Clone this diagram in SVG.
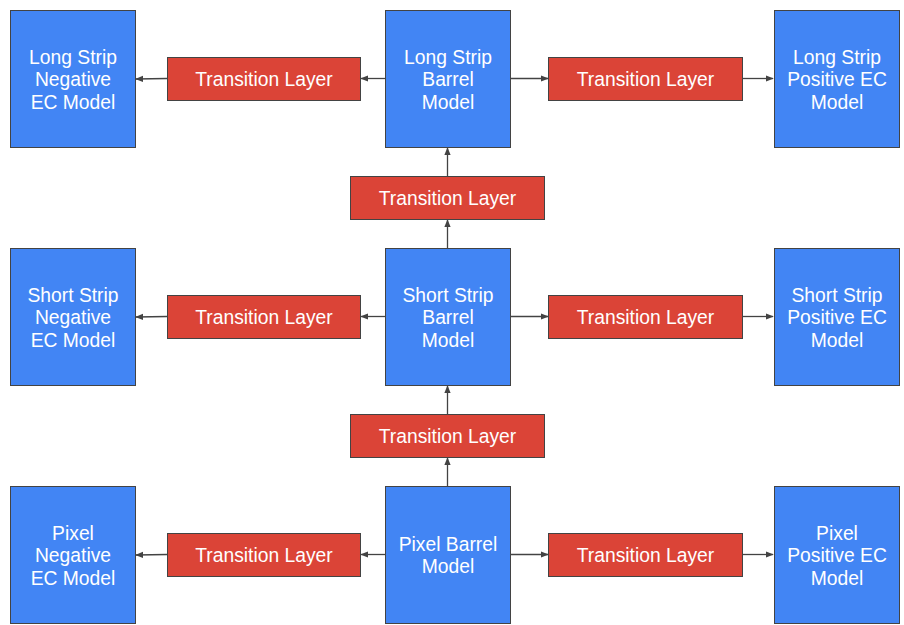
<svg xmlns="http://www.w3.org/2000/svg" width="904" height="625" viewBox="0 0 904 625">
  <style>
    .model { fill: #4285f4; stroke: #434343; stroke-width: 1; }
    .layer { fill: #db4437; stroke: #434343; stroke-width: 1; }
    text { font-family: "Liberation Sans", Arial, sans-serif; font-size: 19.3px; fill: #ffffff; text-anchor: middle; dominant-baseline: central; }
    .link { stroke: #434343; stroke-width: 1.3; fill: none; marker-end: url(#arrow); }
  </style>
  <defs>
    <marker id="arrow" viewBox="0 0 10 10" refX="9" refY="5" markerWidth="8" markerHeight="8" orient="auto" markerUnits="userSpaceOnUse">
      <path d="M0,1 L10,5 L0,9 z" fill="#434343"/>
    </marker>
  </defs>

  <rect width="904" height="625" fill="#ffffff"/>

  <!-- connectors -->
  <g id="connectors">
    <line class="link" x1="167" y1="78.5" x2="136" y2="79"/>
    <line class="link" x1="385" y1="78.5" x2="361" y2="78.5"/>
    <line class="link" x1="510" y1="78.5" x2="548" y2="78.5"/>
    <line class="link" x1="742" y1="78.5" x2="773" y2="78.5"/>
    <line class="link" x1="447.5" y1="176" x2="447.5" y2="148"/>
    <line class="link" x1="447.5" y1="248" x2="447.5" y2="220"/>

    <line class="link" x1="167" y1="316.5" x2="136" y2="317"/>
    <line class="link" x1="385" y1="316.5" x2="361" y2="316.5"/>
    <line class="link" x1="510" y1="316.5" x2="548" y2="316.5"/>
    <line class="link" x1="742" y1="316.5" x2="773" y2="316.5"/>
    <line class="link" x1="447.5" y1="414" x2="447.5" y2="386"/>
    <line class="link" x1="447.5" y1="486" x2="447.5" y2="458"/>

    <line class="link" x1="167" y1="554.5" x2="136" y2="555"/>
    <line class="link" x1="385" y1="554.5" x2="361" y2="554.5"/>
    <line class="link" x1="510" y1="554.5" x2="548" y2="554.5"/>
    <line class="link" x1="742" y1="554.5" x2="773" y2="554.5"/>
  </g>

  <!-- long strip row -->
  <g id="ls-neg">
    <rect class="model" x="10.5" y="10.5" width="125" height="137"/>
    <text x="73" y="57">Long Strip</text>
    <text x="73" y="79.5">Negative</text>
    <text x="73" y="102">EC Model</text>
  </g>
  <g id="ls-neg-tl">
    <rect class="layer" x="167.5" y="57.5" width="193" height="43"/>
    <text x="264" y="79">Transition Layer</text>
  </g>
  <g id="ls-barrel">
    <rect class="model" x="385.5" y="10.5" width="125" height="137"/>
    <text x="448" y="57">Long Strip</text>
    <text x="448" y="79.5">Barrel</text>
    <text x="448" y="102">Model</text>
  </g>
  <g id="ls-pos-tl">
    <rect class="layer" x="548.5" y="57.5" width="194" height="43"/>
    <text x="645.5" y="79">Transition Layer</text>
  </g>
  <g id="ls-pos">
    <rect class="model" x="774.5" y="10.5" width="125" height="137"/>
    <text x="837" y="57">Long Strip</text>
    <text x="837" y="79.5">Positive EC</text>
    <text x="837" y="102">Model</text>
  </g>

  <g id="ss-ls-tl">
    <rect class="layer" x="350.5" y="176.5" width="194" height="43"/>
    <text x="447.5" y="198">Transition Layer</text>
  </g>

  <!-- short strip row -->
  <g id="ss-neg">
    <rect class="model" x="10.5" y="248.5" width="125" height="137"/>
    <text x="73" y="295">Short Strip</text>
    <text x="73" y="317.5">Negative</text>
    <text x="73" y="340">EC Model</text>
  </g>
  <g id="ss-neg-tl">
    <rect class="layer" x="167.5" y="295.5" width="193" height="43"/>
    <text x="264" y="317">Transition Layer</text>
  </g>
  <g id="ss-barrel">
    <rect class="model" x="385.5" y="248.5" width="125" height="137"/>
    <text x="448" y="295">Short Strip</text>
    <text x="448" y="317.5">Barrel</text>
    <text x="448" y="340">Model</text>
  </g>
  <g id="ss-pos-tl">
    <rect class="layer" x="548.5" y="295.5" width="194" height="43"/>
    <text x="645.5" y="317">Transition Layer</text>
  </g>
  <g id="ss-pos">
    <rect class="model" x="774.5" y="248.5" width="125" height="137"/>
    <text x="837" y="295">Short Strip</text>
    <text x="837" y="317.5">Positive EC</text>
    <text x="837" y="340">Model</text>
  </g>

  <g id="px-ss-tl">
    <rect class="layer" x="350.5" y="414.5" width="194" height="43"/>
    <text x="447.5" y="436">Transition Layer</text>
  </g>

  <!-- pixel row -->
  <g id="px-neg">
    <rect class="model" x="10.5" y="486.5" width="125" height="137"/>
    <text x="73" y="533">Pixel</text>
    <text x="73" y="555.5">Negative</text>
    <text x="73" y="578">EC Model</text>
  </g>
  <g id="px-neg-tl">
    <rect class="layer" x="167.5" y="533.5" width="193" height="43"/>
    <text x="264" y="555">Transition Layer</text>
  </g>
  <g id="px-barrel">
    <rect class="model" x="385.5" y="486.5" width="125" height="137"/>
    <text x="448" y="544">Pixel Barrel</text>
    <text x="448" y="566.5">Model</text>
  </g>
  <g id="px-pos-tl">
    <rect class="layer" x="548.5" y="533.5" width="194" height="43"/>
    <text x="645.5" y="555">Transition Layer</text>
  </g>
  <g id="px-pos">
    <rect class="model" x="774.5" y="486.5" width="125" height="137"/>
    <text x="837" y="533">Pixel</text>
    <text x="837" y="555.5">Positive EC</text>
    <text x="837" y="578">Model</text>
  </g>
</svg>
